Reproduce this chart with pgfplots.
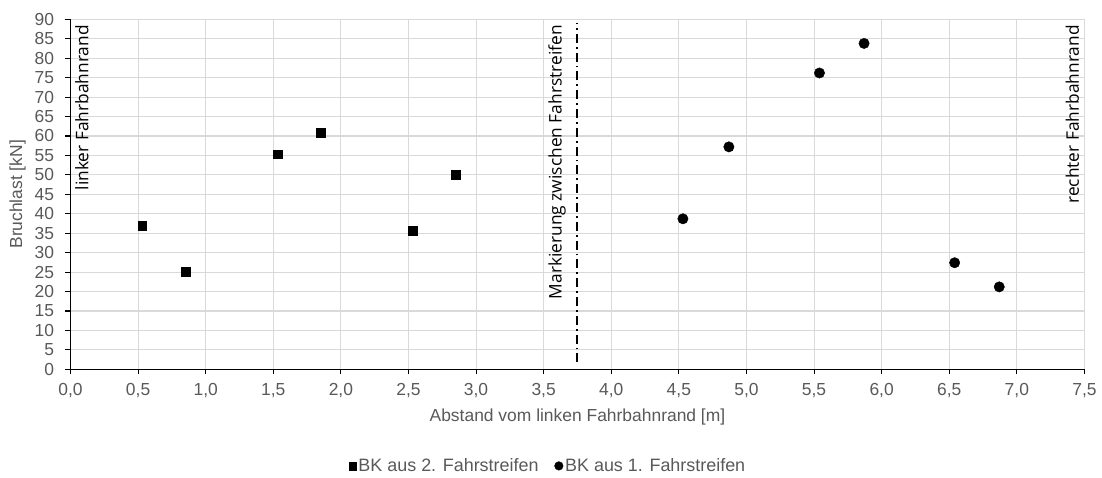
\documentclass[border=0pt]{standalone}
\usepackage{pgfplots}
\pgfplotsset{compat=1.18}
\usepackage{fontspec}
\setmainfont{Liberation Sans}
\newfontfamily\annot{Open Sans}
\definecolor{tickgray}{HTML}{595959}
\definecolor{gridgray}{HTML}{D9D9D9}
\pgfplotsset{
  sqleg/.style={legend image code/.code={\draw[mark repeat=2,mark phase=2,##1, mark size=3.8bp] plot coordinates {(0bp,0bp)(5bp,0bp)(10bp,0bp)};}},
  cileg/.style={legend image code/.code={\draw[mark repeat=2,mark phase=2,##1, mark size=4.3bp] plot coordinates {(0bp,0bp)(5bp,0bp)(10bp,0bp)};}},
}
\begin{document}
\begin{tikzpicture}
\begin{axis}[
  scale only axis,
  width=1014bp, height=350bp,
  xmin=0, xmax=7.5, ymin=0, ymax=90,
  xtick={0,0.5,...,7.5}, ytick={0,5,...,90},
  axis x line=bottom, axis y line=left,
  axis line style={black, line width=1.5pt, -},
  x axis line style={-}, y axis line style={-},
  grid=major,
  major grid style={gridgray, line width=1.1pt},
  tick style={black, line width=1.1pt},
  major tick length=5bp,
  xtick align=outside, ytick align=outside,
  tick label style={font=\fontsize{17.5}{19}\selectfont, text=tickgray},
  xticklabel style={yshift=-6bp, /pgf/number format/.cd, fixed, fixed zerofill, precision=1, use comma, assume math mode=true},
  yticklabel style={xshift=-8bp, /pgf/number format/.cd, fixed, precision=0, assume math mode=true},
  xlabel={Abstand vom linken Fahrbahnrand [m]},
  ylabel={Bruchlast [kN]},
  label style={font=\fontsize{17.5}{19}\selectfont, text=tickgray},
  xlabel style={yshift=-4bp},
  ylabel style={yshift=2bp},
  legend columns=2,
  legend style={draw=none, fill=none, at={(0.471,-0.276)}, anchor=center,
    font=\fontsize{18}{20}\selectfont, text=tickgray,
    /tikz/every even column/.append style={column sep=14bp},
    nodes={inner xsep=2bp}},
  legend cell align=left,
  clip=false,
]
\addplot[only marks, mark=square*, mark size=4.4bp, black, sqleg] coordinates {
  (0.53,36.9) (0.85,25.0) (1.53,55.3) (1.85,60.8) (2.53,35.6) (2.85,50.0)
};
\addlegendentry{BK aus 2. Fahrstreifen}
\addplot[only marks, mark=*, mark size=5.2bp, black, cileg] coordinates {
  (4.53,38.7) (4.87,57.2) (5.54,76.2) (5.87,83.8) (6.54,27.4) (6.87,21.2)
};
\addlegendentry{BK aus 1. Fahrstreifen}
\addplot[black, line width=2bp, dash pattern=on 9bp off 4bp on 1.8bp off 4bp, forget plot]
  coordinates {(3.75,1.8) (3.75,89)};
\node[rotate=90, anchor=east, font=\annot\fontsize{17.4}{19}\selectfont, inner sep=0pt] at (axis cs:0.085,88.5) {linker Fahrbahnrand};
\node[rotate=90, anchor=east, font=\annot\fontsize{17.4}{19}\selectfont, inner sep=0pt] at (axis cs:3.6,88.5) {Markierung zwischen Fahrstreifen};
\node[rotate=90, anchor=east, font=\annot\fontsize{17.4}{19}\selectfont, inner sep=0pt] at (axis cs:7.41,88.5) {rechter Fahrbahnrand};
\end{axis}
\path (current axis.south west) ++(-70.5bp,-105.7bp) rectangle ++(1102bp,475bp);
\end{tikzpicture}
\end{document}
